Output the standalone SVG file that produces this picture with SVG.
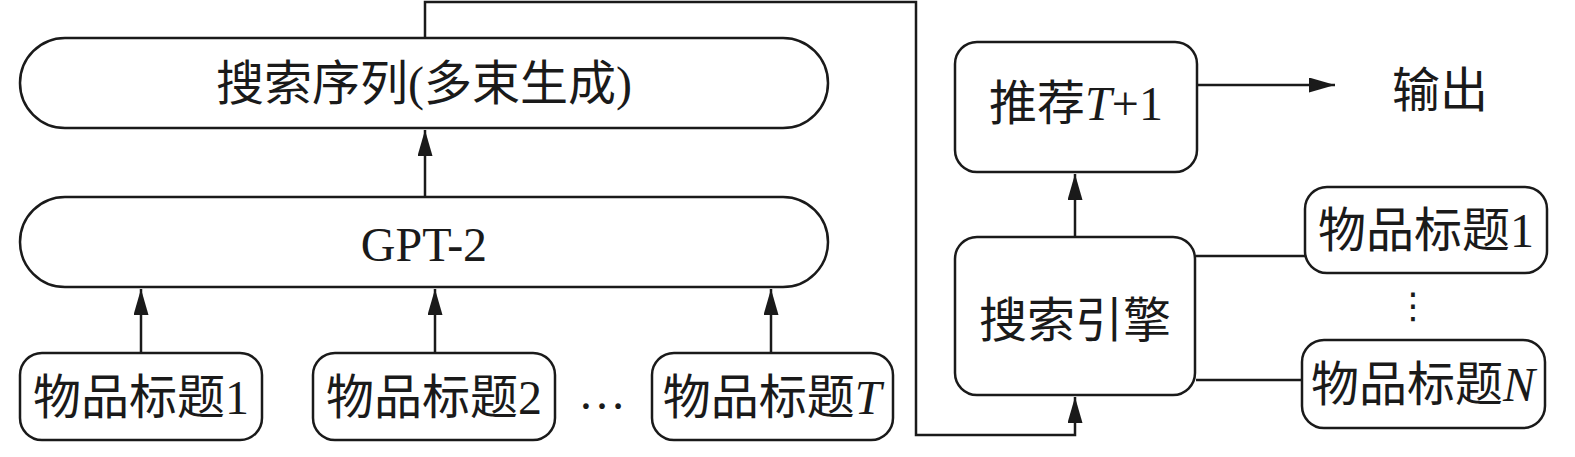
<svg xmlns="http://www.w3.org/2000/svg" width="1575" height="457" viewBox="0 0 1575 457">
<style>
.box{fill:#fff;stroke:#1a1a1a;stroke-width:2.5}
.t{font-family:"Liberation Serif","Noto Sans CJK SC",serif;font-size:48px;fill:#1a1a1a;text-anchor:middle;dominant-baseline:central}
.i{font-style:italic}
.c{fill:none;stroke:#1a1a1a;stroke-width:2.5}
</style>
<defs>
<marker id="ah" markerUnits="userSpaceOnUse" markerWidth="26" markerHeight="15" refX="26" refY="7.5" orient="auto" viewBox="0 0 26 15">
<path d="M0,0 L26,7.5 L0,15 Z" fill="#1a1a1a"/>
</marker>
</defs>
<rect width="1575" height="457" fill="#fff"/>
<g id="connectors">
<path class="c" d="M425,38 V2 H916 V435 H1075 V397" marker-end="url(#ah)"/>
<path class="c" d="M425,197 V130" marker-end="url(#ah)"/>
<path class="c" d="M141,353 V289" marker-end="url(#ah)"/>
<path class="c" d="M435,353 V289" marker-end="url(#ah)"/>
<path class="c" d="M771,353 V289" marker-end="url(#ah)"/>
<path class="c" d="M1075,237 V174" marker-end="url(#ah)"/>
<path class="c" d="M1197,85 H1335" marker-end="url(#ah)"/>
<path class="c" d="M1196,256 H1305"/>
<path class="c" d="M1196,380 H1302"/>
</g>
<g id="search-seq">
<rect class="box" x="20" y="38" width="808" height="90" rx="45"/>
<text class="t" x="424" y="83">搜索序列(多束生成)</text>
</g>
<g id="gpt2">
<rect class="box" x="20" y="197" width="808" height="90" rx="45"/>
<text class="t" x="424" y="244">GPT-2</text>
</g>
<g id="item1">
<rect class="box" x="20" y="353" width="242" height="87" rx="22"/>
<text class="t" x="141" y="397">物品标题1</text>
</g>
<g id="item2">
<rect class="box" x="313" y="353" width="242" height="87" rx="22"/>
<text class="t" x="434" y="397">物品标题2</text>
</g>
<g id="dots-h">
<text class="t" x="602" y="392">…</text>
</g>
<g id="itemT">
<rect class="box" x="652" y="353" width="241" height="87" rx="22"/>
<text class="t" x="772" y="397">物品标题<tspan class="i">T</tspan></text>
</g>
<g id="engine">
<rect class="box" x="955" y="237" width="240" height="158" rx="22"/>
<text class="t" x="1075" y="320">搜索引擎</text>
</g>
<g id="recommend">
<rect class="box" x="955" y="42" width="242" height="130" rx="22"/>
<text class="t" x="1076" y="103">推荐<tspan class="i">T</tspan>+1</text>
</g>
<g id="output">
<text class="t" x="1440" y="90">输出</text>
</g>
<g id="itemR1">
<rect class="box" x="1305" y="187" width="242" height="86" rx="22"/>
<text class="t" x="1426" y="230">物品标题1</text>
</g>
<g id="dots-v">
<text class="t" style="font-family:'DejaVu Sans',sans-serif;font-size:36px" x="1413" y="305">⋮</text>
</g>
<g id="itemRN">
<rect class="box" x="1302" y="340" width="243" height="88" rx="22"/>
<text class="t" x="1423" y="384">物品标题<tspan class="i">N</tspan></text>
</g>
</svg>
